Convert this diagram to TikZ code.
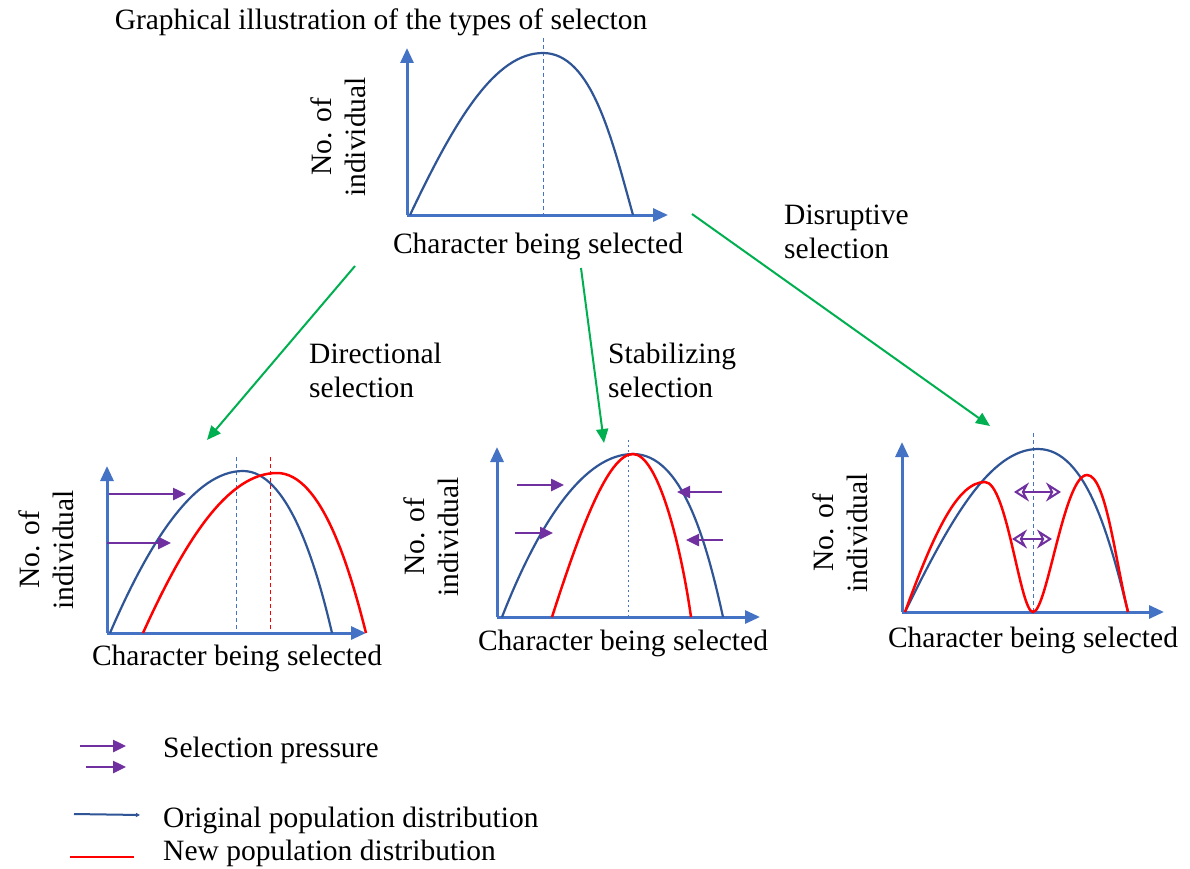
\documentclass[tikz,border=0pt]{standalone}
\usepackage{fontspec}
\setmainfont{Liberation Serif}
\usetikzlibrary{arrows.meta}
\definecolor{axisblue}{RGB}{68,114,196}
\definecolor{curveblue}{RGB}{47,85,151}
\definecolor{newred}{RGB}{255,0,0}
\definecolor{selpurple}{RGB}{112,48,160}
\definecolor{linkgreen}{RGB}{0,176,80}
\begin{document}
\begin{tikzpicture}[x=1pt,y=-1pt,
  txt/.style={font=\fontsize{29.5}{34}\selectfont,inner sep=0pt},
  ylab/.style={txt,rotate=90,align=center},
  axis/.style={draw=axisblue,line width=3pt,-{Triangle[length=15pt,width=13pt]}},
  orig/.style={draw=curveblue,line width=2.2pt},
  newc/.style={draw=newred,line width=2.5pt},
  mid/.style={draw=axisblue,line width=1pt,dash pattern=on 4pt off 3pt},
  midred/.style={draw=newred,line width=1pt,dash pattern=on 4pt off 3pt},
  press/.style={draw=selpurple,line width=2.5pt,-{Triangle[length=13pt,width=12pt]}},
  dpress/.style={draw=selpurple,line width=2pt,{Stealth[open,length=15pt,width=19pt,inset=5pt]}-{Stealth[open,length=15pt,width=19pt,inset=5pt]}},
  link/.style={draw=linkgreen,line width=2pt,-{Triangle[length=14pt,width=12pt]}}]
\useasboundingbox[fill=white] (0,0) rectangle (1190,869);

% title
\node[txt] (title) at (381,22) {Graphical illustration of the types of selecton};

% ---------- top graph ----------
\coordinate (t0) at (407,215);
\draw[mid] (543,38) -- (543,215);
\draw[axis] (t0) -- (407,48);
\draw[axis] (t0) -- (668,215);
\draw[orig] (410,215) .. controls (455,120) and (495,53) .. (543,53) .. controls (592,53) and (612,140) .. (633,215);
\node[ylab] (tyl) at (338,137) {No. of\\individual};
\node[txt] (txl) at (538,246) {Character being selected};

% ---------- directional ----------
\coordinate (d0) at (107,633);
\draw[mid] (236,457) -- (236,633);
\draw[midred] (270,457) -- (270,633);
\draw[axis] (d0) -- (107,466);
\draw[axis] (d0) -- (366,633);
\draw[orig] (110,633) .. controls (150,540) and (195,471) .. (243,471) .. controls (287,471) and (315,560) .. (332,633);
\draw[newc] (143,633) .. controls (185,540) and (228,473) .. (277,473) .. controls (322,473) and (350,570) .. (366,633);
\draw[press] (109,494) -- (186,494);
\draw[press] (107,543) -- (171,543);
\node[ylab] (dyl) at (46,550) {No. of\\individual};
\node[txt] (dxl) at (237,658) {Character being selected};

% ---------- stabilizing ----------
\coordinate (s0) at (497,617);
\draw[draw=axisblue,line width=1pt,dash pattern=on 2pt off 3pt] (628,440) -- (628,617);
\draw[axis] (s0) -- (497,447);
\draw[axis] (s0) -- (760,617);
\draw[orig] (502,617) .. controls (540,520) and (585,454) .. (633,454) .. controls (682,454) and (706,540) .. (723,617);
\draw[newc] (552,617) .. controls (580,530) and (608,454) .. (633,454) .. controls (657,454) and (680,540) .. (691,617);
\draw[press] (517,485) -- (564,485);
\draw[press] (515,533) -- (553,533);
\draw[press] (722,492) -- (677,492);
\draw[press] (723,540) -- (686,540);
\node[ylab] (syl) at (431,537) {No. of\\individual};
\node[txt] (sxl) at (623,643) {Character being selected};

% ---------- disruptive ----------
\coordinate (r0) at (902,612);
\draw[mid] (1033,433) -- (1033,612);
\draw[axis] (r0) -- (902,442);
\draw[axis] (r0) -- (1164,612);
\draw[orig] (905,612) .. controls (950,520) and (990,449) .. (1038,449) .. controls (1087,449) and (1110,540) .. (1128,612);
\draw[newc] (905,612) .. controls (935,530) and (958,482) .. (985,482) .. controls (1007,482) and (1020,612) .. (1033,612) .. controls (1047,612) and (1064,475) .. (1087,475) .. controls (1106,475) and (1115,560) .. (1128,612);
\draw[dpress] (1014,492) -- (1061,492);
\draw[dpress] (1012,539) -- (1052,539);
\node[ylab] (ryl) at (840,533) {No. of\\individual};
\node[txt] (rxl) at (1033,640) {Character being selected};

% ---------- links ----------
\coordinate (la) at (355,266);
\coordinate (lb) at (207,440);
\coordinate (lc) at (581,268);
\coordinate (ld) at (604,443);
\coordinate (le) at (692,214);
\coordinate (lf) at (990,426);
\draw[link] (la) -- (lb);
\draw[link] (lc) -- (ld);
\draw[link] (le) -- (lf);

\node[txt,anchor=west,align=left] (dirl) at (309,370) {Directional\\selection};
\node[txt,anchor=west,align=left] (stal) at (608,370) {Stabilizing\\selection};
\node[txt,anchor=west,align=left] (disl) at (784,232) {Disruptive\\selection};

% ---------- legend ----------
\draw[press] (80,746) -- (126,746);
\draw[press] (86,767) -- (126,767);
\draw[draw=curveblue,line width=2pt,-{Triangle[length=4pt,width=4pt]}] (74,814) -- (140,815);
\draw[draw=newred,line width=2.5pt] (70,857) -- (134,857);
\node[txt,anchor=west] (lg1) at (163,750) {Selection pressure};
\node[txt,anchor=west] (lg2) at (163,820) {Original population distribution};
\node[txt,anchor=west] (lg3) at (163,853) {New population distribution};
\end{tikzpicture}
\end{document}
